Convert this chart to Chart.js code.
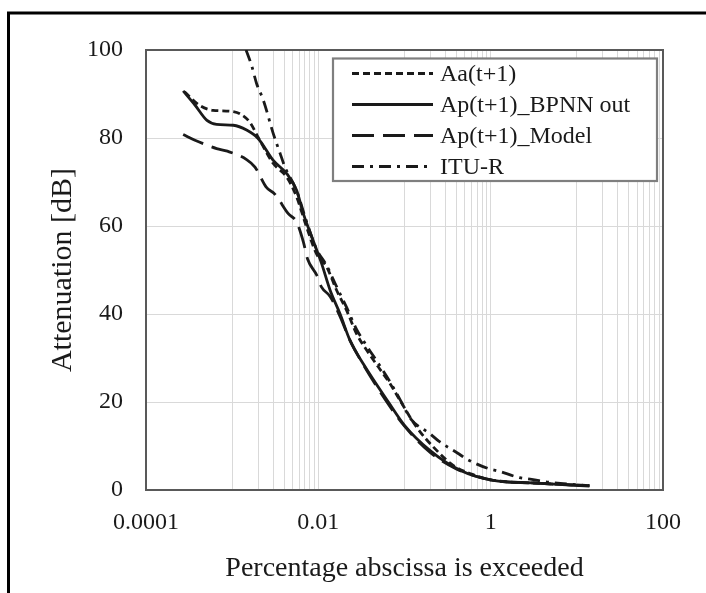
<!DOCTYPE html>
<html>
<head>
<meta charset="utf-8">
<script src="https://cdn.jsdelivr.net/npm/chart.js@4.4.0/dist/chart.umd.min.js"></script>
<style>
body { margin: 0; background: #fff; }
#wrap { width: 706px; height: 593px; position: relative; }
</style>
</head>
<body>
<div id="wrap"><canvas id="chart"></canvas></div>
<script>
const seriesNames = ['Aa(t+1)', 'Ap(t+1)_BPNN out', 'Ap(t+1)_Model', 'ITU-R'];

// Aa(t+1)
const aaX = [0.00028, 0.00042, 0.0006, 0.00094, 0.00123, 0.0016, 0.002, 0.003, 0.0043, 0.0056, 0.0073, 0.0095, 0.0125, 0.0163, 0.0213, 0.0278, 0.0363, 0.0495, 0.0678, 0.0885, 0.138, 0.236, 0.367, 0.6, 1.0, 3, 14];
const aaY = [90.5, 87.4, 86.3, 86.1, 85.5, 83.6, 80.2, 74.2, 71.1, 66.6, 59.8, 53.7, 50.7, 45.4, 40.8, 35.5, 31.8, 28.0, 24.2, 20.4, 14.3, 9.0, 5.6, 3.6, 2.3, 1.6, 1.0];

// Ap(t+1)_BPNN out
const bpX = [0.00027, 0.00037, 0.00051, 0.00066, 0.00103, 0.00147, 0.002, 0.003, 0.0043, 0.0056, 0.0067, 0.0087, 0.0109, 0.0137, 0.0178, 0.0233, 0.0332, 0.065, 0.1, 0.197, 0.44, 1.07, 3.1, 14];
const bpY = [90.7, 87.5, 84.0, 83.1, 82.9, 81.8, 79.9, 74.9, 71.9, 68.1, 62.8, 56.7, 51.5, 45.4, 40.1, 34.0, 28.7, 20.0, 14.7, 9.0, 4.5, 2.2, 1.6, 0.9];

// Ap(t+1)_Model
const mdX = [0.00027, 0.00037, 0.00066, 0.00088, 0.00147, 0.00184, 0.00247, 0.00314, 0.00448, 0.0056, 0.0067, 0.0075, 0.0096, 0.0109, 0.0137, 0.0178, 0.0233, 0.0332, 0.065, 0.1, 0.2, 0.4, 1.0, 3, 14];
const mdY = [80.8, 79.5, 77.6, 77.0, 75.1, 73.4, 68.9, 67.2, 62.8, 60.9, 56.4, 52.5, 48.8, 46.1, 44.0, 39.5, 34.0, 28.5, 19.5, 14.5, 8.5, 4.8, 2.3, 1.6, 1.0];

// ITU-R
const ituX = [0.00145, 0.00168, 0.00192, 0.0023, 0.003, 0.0036, 0.0041, 0.0056, 0.0073, 0.0095, 0.0125, 0.0163, 0.0213, 0.0278, 0.0363, 0.0495, 0.0678, 0.0885, 0.12, 0.197, 0.25, 0.42, 0.52, 0.93, 1.23, 2.17, 2.99, 5, 14];
const ituY = [100, 96.5, 92.4, 88.6, 81.0, 76.5, 73.4, 68.0, 61.0, 54.8, 51.0, 46.2, 41.5, 36.5, 32.8, 28.8, 24.6, 20.6, 16.0, 12.8, 11.1, 8.3, 7.1, 4.9, 4.3, 2.8, 2.4, 1.7, 1.0];

const xTickValues = [0.0001, 0.01, 1, 100];
const xTickLabels = ['0.0001', '0.01', '1', '100'];
const xMinorDecades = [0.001, 0.1, 10];   // decades that carry 2..9 gridlines
const yTicks = [0, 20, 40, 60, 80, 100];

const FONT = "'Liberation Serif', 'Times New Roman', serif";
const INK = '#1a1a1a';

// gridline positions on the log axis
const xGrid = xTickValues.slice();
xMinorDecades.forEach(d => {
  for (let k = 1; k <= 9; k++) xGrid.push(parseFloat((d * k).toPrecision(3)));
});
xGrid.sort((a, b) => a - b);

const toPoints = (xs, ys) => xs.map((x, i) => ({ x: x, y: ys[i] }));

const dashes = [[7, 4], [], [22, 9], [12, 6, 3, 6]];
const series = [toPoints(aaX, aaY), toPoints(bpX, bpY), toPoints(mdX, mdY), toPoints(ituX, ituY)];

const datasets = series.map((pts, i) => ({
  label: seriesNames[i],
  data: pts,
  borderColor: INK,
  borderWidth: 2.8,
  borderDash: dashes[i],
  pointRadius: 0,
  fill: false,
  cubicInterpolationMode: 'monotone'
}));

// outer frame, plot border and the boxed legend
const decor = {
  id: 'decor',
  beforeDraw(chart) {
    const ctx = chart.ctx;
    ctx.save();
    ctx.strokeStyle = '#000';
    ctx.lineWidth = 3;
    ctx.beginPath();
    ctx.moveTo(8.5, 593);
    ctx.lineTo(8.5, 13);
    ctx.lineTo(706, 13);
    ctx.stroke();
    ctx.restore();
  },
  beforeDatasetsDraw(chart) {
    const a = chart.chartArea;
    const ctx = chart.ctx;
    ctx.save();
    ctx.strokeStyle = '#595959';
    ctx.lineWidth = 2;
    ctx.strokeRect(a.left, a.top, a.right - a.left, a.bottom - a.top);
    ctx.restore();
  },
  afterDatasetsDraw(chart) {
    const ctx = chart.ctx;
    const bx = 333, by = 58.5, bw = 324, bh = 122.5;
    ctx.save();
    ctx.fillStyle = '#fff';
    ctx.fillRect(bx, by, bw, bh);
    ctx.strokeStyle = '#7f7f7f';
    ctx.lineWidth = 2.2;
    ctx.strokeRect(bx, by, bw, bh);
    ctx.font = '24px ' + FONT;
    ctx.textBaseline = 'middle';
    ctx.textAlign = 'left';
    chart.data.datasets.forEach((ds, i) => {
      const y = 73.5 + i * 31;
      ctx.strokeStyle = ds.borderColor;
      ctx.lineWidth = ds.borderWidth;
      ctx.setLineDash(ds.borderDash);
      ctx.beginPath();
      ctx.moveTo(352, y);
      ctx.lineTo(433, y);
      ctx.stroke();
      ctx.setLineDash([]);
      ctx.fillStyle = INK;
      ctx.fillText(ds.label, 440, y + 1);
    });
    ctx.restore();
  }
};

new Chart(document.getElementById('chart'), {
  type: 'line',
  data: { datasets },
  options: {
    responsive: true,
    maintainAspectRatio: false,
    animation: false,
    layout: { padding: { top: 50, right: 43, left: 0, bottom: 0 } },
    plugins: { legend: { display: false }, tooltip: { enabled: false } },
    scales: {
      x: {
        type: 'logarithmic',
        min: 0.0001,
        max: 100,
        afterBuildTicks: (scale) => { scale.ticks = xGrid.map(v => ({ value: v })); },
        afterFit: (scale) => { scale.height = 103; },
        ticks: {
          autoSkip: false,
          maxRotation: 0,
          padding: 18,
          color: INK,
          font: { family: FONT, size: 24 },
          callback: (v) => {
            const i = xTickValues.findIndex(t => Math.abs(Math.log10(t) - Math.log10(v)) < 1e-6);
            return i >= 0 ? xTickLabels[i] : '';
          }
        },
        grid: { color: '#d9d9d9', lineWidth: 1, drawTicks: false },
        border: { display: false },
        title: {
          display: true,
          text: 'Percentage abscissa is exceeded',
          color: INK,
          font: { family: FONT, size: 28 },
          padding: { top: 0, bottom: 8 }
        }
      },
      y: {
        min: 0,
        max: 100,
        afterBuildTicks: (scale) => { scale.ticks = yTicks.map(v => ({ value: v })); },
        afterFit: (scale) => { scale.width = 146; },
        ticks: {
          padding: 23,
          color: INK,
          font: { family: FONT, size: 24 }
        },
        grid: { color: '#d9d9d9', lineWidth: 1, drawTicks: false },
        border: { display: false },
        title: {
          display: true,
          text: 'Attenuation [dB]',
          color: INK,
          font: { family: FONT, size: 30 },
          padding: { top: 45, bottom: 0 }
        }
      }
    }
  },
  plugins: [decor]
});
</script>
</body>
</html>
